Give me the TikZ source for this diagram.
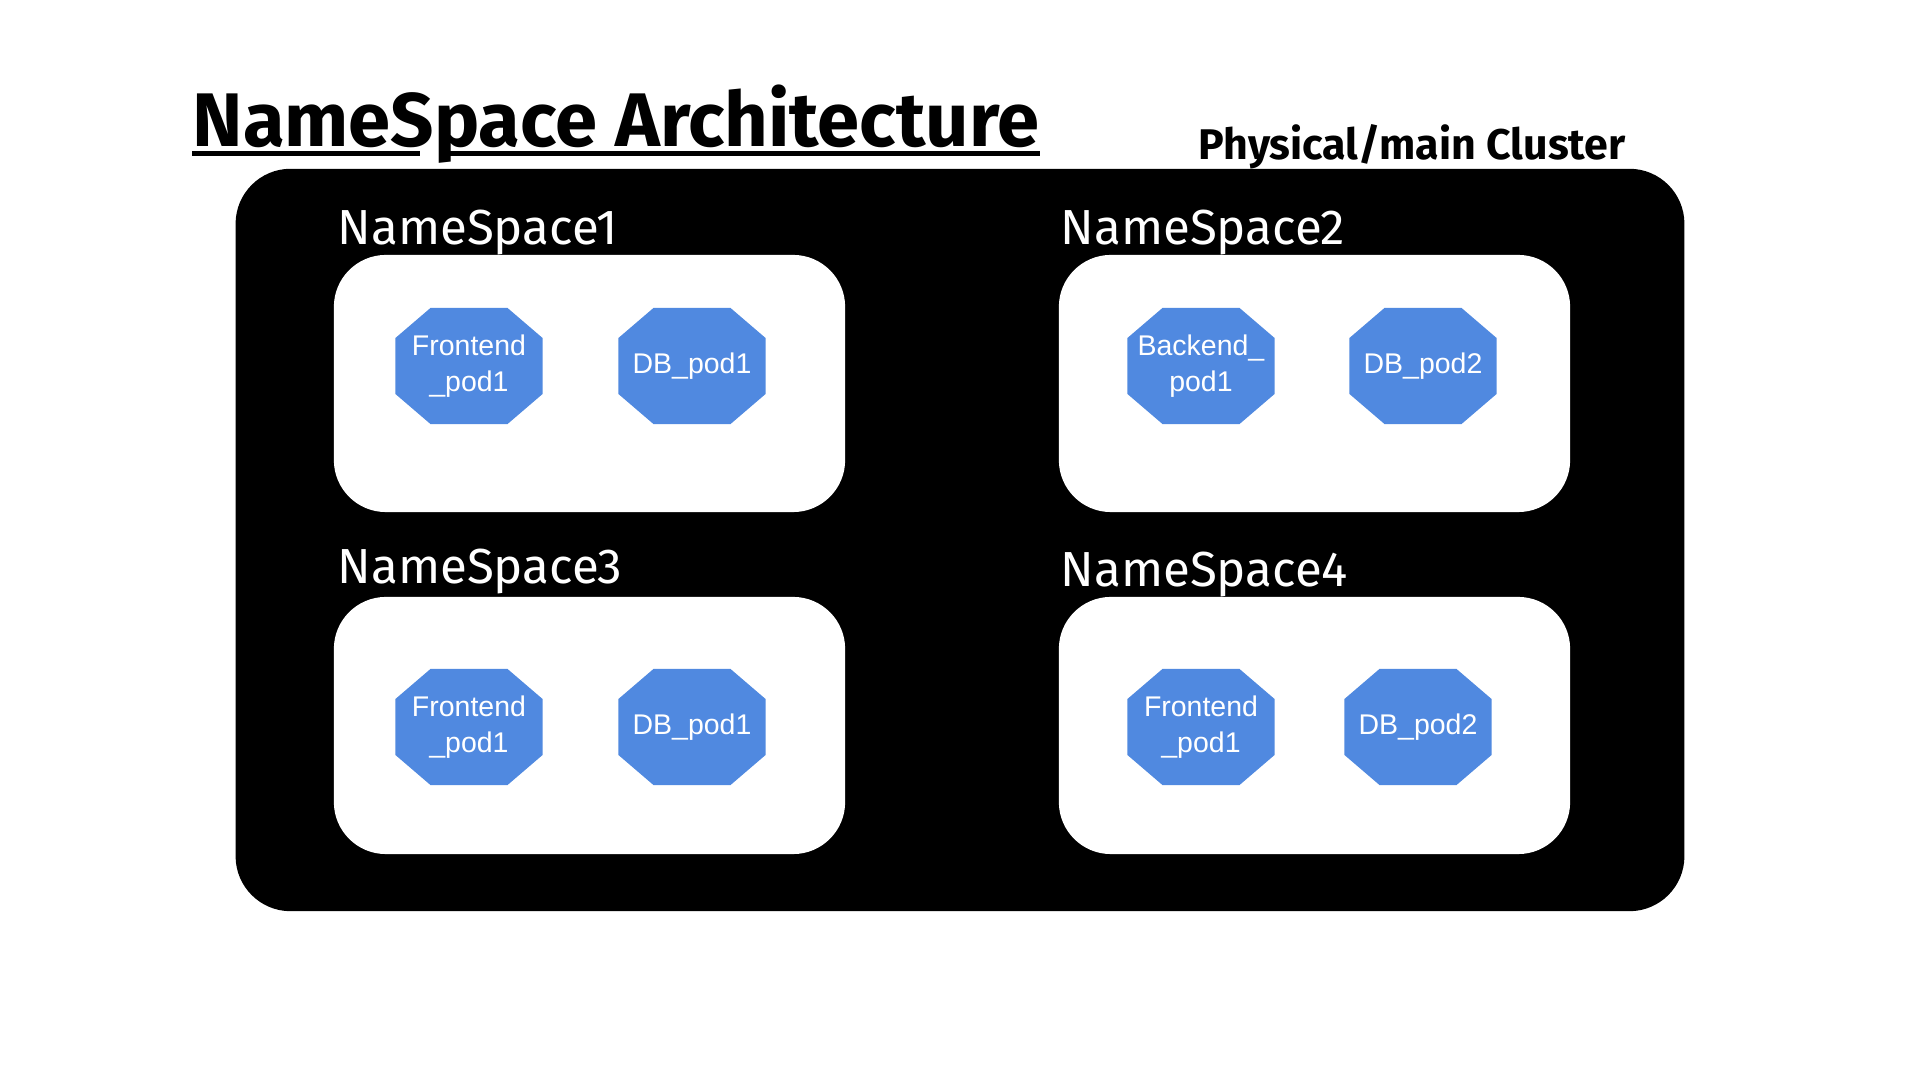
\documentclass[tikz,border=0pt]{standalone}
\usepackage{fontspec}
\usepackage{tikz}
\setmainfont{Fira Sans}
\newfontfamily\podfont{Liberation Sans}
\definecolor{podblue}{RGB}{80,137,224}

\begin{document}
\begin{tikzpicture}[x=0.01cm, y=-0.01cm,
	every node/.style={inner sep=0pt},
	heading/.style={anchor=base west, font=\bfseries\fontsize{21.6pt}{24pt}\selectfont},
	clustername/.style={anchor=base west, font=\bfseries\fontsize{12.2pt}{14pt}\selectfont},
	cluster/.style={fill=black, rounded corners=0.55cm, minimum width=14.48cm, minimum height=7.42cm},
	nsbox/.style={fill=white, rounded corners=0.52cm, minimum width=5.11cm, minimum height=2.57cm},
	nslabel/.style={anchor=base west, text=white, font=\fontsize{14pt}{16pt}\selectfont},
	pod/.style={minimum width=1.47cm, minimum height=1.16cm, align=center, text=white,
		font=\podfont\fontsize{8.1pt}{10.2pt}\selectfont,
		path picture={\fill[podblue]
			([xshift=0.35cm]path picture bounding box.north west) --
			([xshift=-0.35cm]path picture bounding box.north east) --
			([yshift=-0.30cm]path picture bounding box.north east) --
			([yshift=0.30cm]path picture bounding box.south east) --
			([xshift=-0.35cm]path picture bounding box.south east) --
			([xshift=0.35cm]path picture bounding box.south west) --
			([yshift=0.30cm]path picture bounding box.south west) --
			([yshift=-0.30cm]path picture bounding box.north west) -- cycle;}}]
	
	\fill[white] (0,0) rectangle (1920,1080);
	
	\node[heading] (title) at (192,147) {NameSpace Architecture};
	\draw[line width=0.05cm] ([yshift=-0.07cm]title.base west) -- ([shift={(2.28cm,-0.07cm)}]title.base west);
	\draw[line width=0.05cm] ([shift={(2.52cm,-0.07cm)}]title.base west) -- ([yshift=-0.07cm]title.base east);
	\node[clustername] (clusterlabel) at (1198,160) {Physical/main Cluster};
	
	\node[cluster] (main) at (960,540) {};
	
	\node[nsbox] (ns1) at (589.5,383.5) {};
	\node[nsbox] (ns2) at (1314.5,383.5) {};
	\node[nsbox] (ns3) at (589.5,725.5) {};
	\node[nsbox] (ns4) at (1314.5,725.5) {};
	
	\node[nslabel] (ns1label) at (337,245) {NameSpace1};
	\node[nslabel] (ns2label) at (1060,245) {NameSpace2};
	\node[nslabel] (ns3label) at (337,584) {NameSpace3};
	\node[nslabel] (ns4label) at (1060,587) {NameSpace4};
	
	\node[pod] (front1) at (469,366) {Frontend\\\_pod1};
	\node[pod] (db1) at (692,366) {DB\_pod1};
	\node[pod] (back1) at (1201,366) {Backend\_\\pod1};
	\node[pod] (db2) at (1423,366) {DB\_pod2};
	\node[pod] (front3) at (469,727) {Frontend\\\_pod1};
	\node[pod] (db3) at (692,727) {DB\_pod1};
	\node[pod] (front4) at (1201,727) {Frontend\\\_pod1};
	\node[pod] (db4) at (1418,727) {DB\_pod2};
	
\end{tikzpicture}
\end{document}
